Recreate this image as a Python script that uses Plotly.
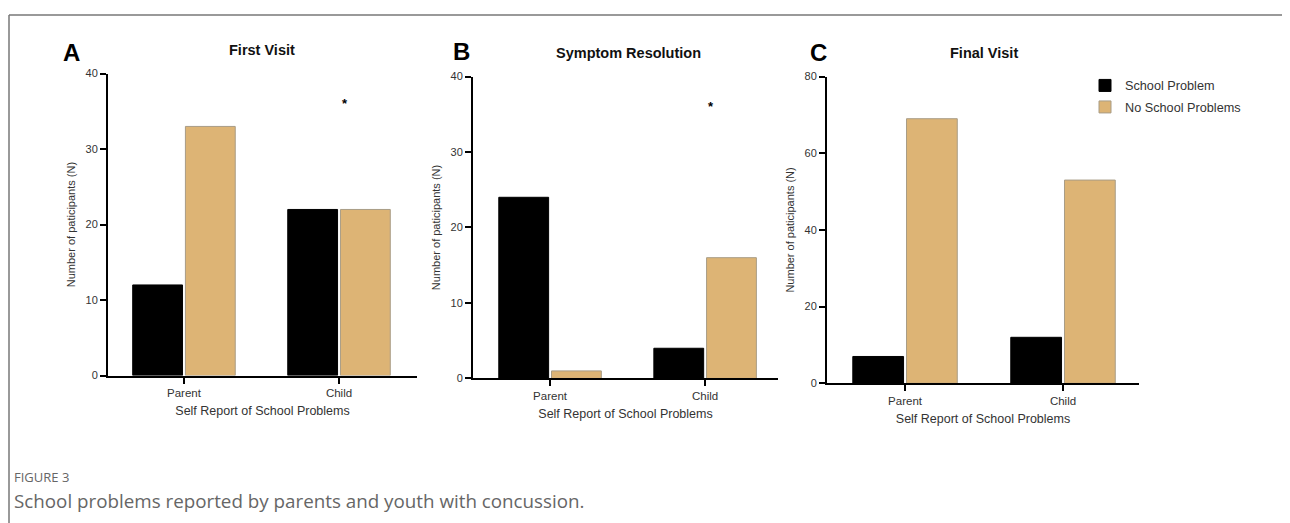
import plotly.graph_objects as go

# ---- data ----
categories = ["Parent", "Child"]
panel_titles = ["First Visit", "Symptom Resolution", "Final Visit"]
panel_letters = ["A", "B", "C"]
series_names = ["School Problem", "No School Problems"]

first_school = [12, 22]
first_no_school = [33, 22]
resolution_school = [24, 4]
resolution_no_school = [1, 16]
final_school = [7, 12]
final_no_school = [69, 53]

y_max = [40, 40, 80]
y_ticks = [[0, 10, 20, 30, 40], [0, 10, 20, 30, 40], [0, 20, 40, 60, 80]]
star_values = [36, 36, None]  # significance marker heights (Child)

W, H = 1290, 523
OFF = 8  # page (body) margin of the html page
BLACK = "#000000"
TAN = "#DDB475"
FONT = "Liberation Sans, Arial, sans-serif"


def px(x):
    return (x - OFF) / W


def py(y):
    return 1 - (y - OFF) / H


# pixel geometry (screen) -> paper domains
x_px = [(108, 417), (473, 778), (827, 1139)]
y_px = [(69, 378), (72, 381), (72, 386)]
x_ranges = [(-0.49, 1.503), (-0.497, 1.47), (-0.494, 1.481)]

fig = go.Figure()
data_sets = [
    (first_school, first_no_school),
    (resolution_school, resolution_no_school),
    (final_school, final_no_school),
]
for i, (s, n) in enumerate(data_sets):
    xa = "x" if i == 0 else f"x{i+1}"
    ya = "y" if i == 0 else f"y{i+1}"
    fig.add_trace(go.Bar(x=categories, y=s, name=series_names[0], xaxis=xa, yaxis=ya,
                         marker=dict(color=BLACK, line=dict(color=BLACK, width=1)),
                         showlegend=(i == 2), legendgroup="s"))
    fig.add_trace(go.Bar(x=categories, y=n, name=series_names[1], xaxis=xa, yaxis=ya,
                         marker=dict(color=TAN, line=dict(color="#A89C86", width=1)),
                         showlegend=(i == 2), legendgroup="n"))

layout = dict(
    width=W, height=H,
    margin=dict(l=0, r=0, t=0, b=0),
    paper_bgcolor="white", plot_bgcolor="white",
    barmode="group", bargap=0.32, bargroupgap=0.055,
    font=dict(family=FONT, color="#333333", size=11),
    legend=dict(x=px(1085), y=py(66), xanchor="left", yanchor="top",
                font=dict(size=12.7, color="#333333", family=FONT),
                bgcolor="rgba(0,0,0,0)", itemwidth=30, tracegroupgap=2),
    showlegend=True,
)

annotations = []
shapes = []
for i in range(3):
    sx = "" if i == 0 else str(i + 1)
    x0, x1 = x_px[i]
    yt, yb = y_px[i]
    layout[f"xaxis{sx}"] = dict(
        domain=[px(x0), px(x1)], range=list(x_ranges[i]), anchor=f"y{sx}",
        showline=True, linecolor="black", linewidth=2,
        ticks="outside", ticklen=6, tickwidth=2, tickcolor="black",
        showgrid=False, zeroline=False, type="category",
        tickfont=dict(size=11.5, color="#333333", family=FONT),
        title=dict(text="Self Report of School Problems",
                   font=dict(size=12.5, color="#333333", family=FONT), standoff=8),
        fixedrange=True,
    )
    layout[f"yaxis{sx}"] = dict(
        domain=[py(yb), py(yt)], range=[0, y_max[i]], anchor=f"x{sx}",
        showline=True, linecolor="black", linewidth=2,
        ticks="outside", ticklen=6, tickwidth=2, tickcolor="black",
        tickvals=y_ticks[i], showgrid=False, zeroline=False,
        tickfont=dict(size=11, color="#333333", family=FONT),
        title=dict(text="Number of paticipants (N)",
                   font=dict(size=11, color="#333333", family=FONT), standoff=8),
        fixedrange=True,
    )
    annotations.append(dict(text=f"<b>{panel_titles[i]}</b>", xref="paper", yref="paper",
                            x=px([262, 628, 984][i]), y=py([45, 48, 48][i]),
                            showarrow=False, xanchor="center", yanchor="middle",
                            font=dict(size=14.5, color="#111111", family=FONT)))
    annotations.append(dict(text=f"<b>{panel_letters[i]}</b>", xref="paper", yref="paper",
                            x=px([71, 461, 818][i]), y=py([47, 46, 47][i]),
                            showarrow=False, xanchor="center", yanchor="middle",
                            font=dict(size=24, color="#000000", family=FONT)))
    if star_values[i] is not None:
        annotations.append(dict(text="<b>*</b>", xref=f"x{sx}", yref=f"y{sx}",
                                x=1, xshift=6, y=star_values[i], showarrow=False,
                                font=dict(size=13, color="#000000", family=FONT)))

annotations.append(dict(text="FIGURE 3", xref="paper", yref="paper", x=px(12), y=py(482),
                        xanchor="left", yanchor="middle", showarrow=False,
                        font=dict(size=13, color="#666666", family="Open Sans")))
annotations.append(dict(text="School problems reported by parents and youth with concussion.",
                        xref="paper", yref="paper", x=px(12), y=py(506),
                        xanchor="left", yanchor="middle", showarrow=False,
                        font=dict(size=18.8, color="#666666", family="Open Sans")))

shapes.append(dict(type="line", xref="paper", yref="paper", x0=px(9), y0=py(9), x1=1, y1=py(9),
                   line=dict(color="#777777", width=1.5)))
shapes.append(dict(type="line", xref="paper", yref="paper", x0=px(9), y0=py(9), x1=px(9), y1=0,
                   line=dict(color="#777777", width=1.5)))

layout["annotations"] = annotations
layout["shapes"] = shapes
fig.update_layout(**layout)

fig.write_html("out.html", config={"displayModeBar": False})
